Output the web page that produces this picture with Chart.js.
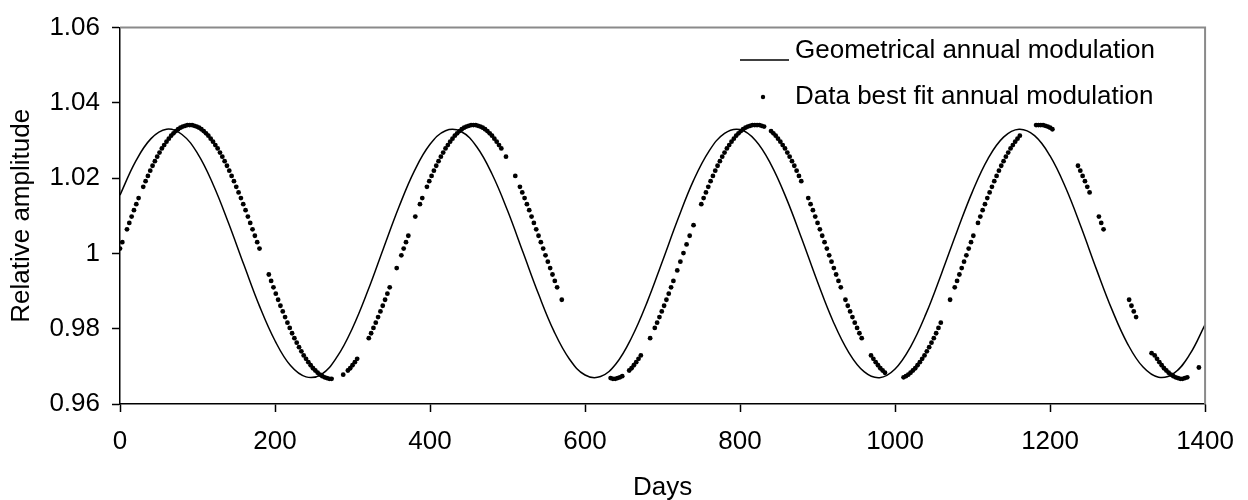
<!DOCTYPE html>
<html>
<head>
<meta charset="utf-8">
<script src="https://cdn.jsdelivr.net/npm/chart.js@4.4.0/dist/chart.umd.min.js"></script>
<style>
  html, body { margin: 0; padding: 0; background: #fff; }
  canvas { display: block; }
</style>
</head>
<body>
<canvas id="modChart" width="1248" height="500"></canvas>
<script>
// geometrical modulation, read every 20 days
const lineDays = [0,20,40,60,80,100,120,140,160,180,200,220,240,260,280,300,320,340,360,380,
  400,420,440,460,480,500,520,540,560,580,600,620,640,660,680,700,720,740,760,780,
  800,820,840,860,880,900,920,940,960,980,1000,1020,1040,1060,1080,1100,1120,1140,1160,1180,
  1200,1220,1240,1260,1280,1300,1320,1340,1360,1380,1400];
const lineValues = [1.0155,1.0244,1.0305,1.0330,1.0316,1.0266,1.0184,1.0081,0.9969,0.9860,
  0.9768,0.9702,0.9672,0.9679,0.9725,0.9802,0.9902,1.0014,1.0124,1.0220,
  1.0290,1.0326,1.0324,1.0284,1.0211,1.0114,1.0003,0.9892,0.9793,0.9719,
  0.9677,0.9673,0.9707,0.9776,0.9870,0.9980,1.0092,1.0194,1.0272,1.0319,
  1.0329,1.0300,1.0236,1.0145,1.0037,0.9924,0.9820,0.9738,0.9686,0.9670,
  0.9693,0.9752,0.9840,0.9947,1.0059,1.0165,1.0252,1.0309,1.0330,1.0313,
  1.0259,1.0175,1.0070,0.9957,0.9850,0.9760,0.9698,0.9671,0.9682,0.9731,0.9811];

// best fit points (days with data)
const fitDays = [0,3,9,12,15,18,21,24,30,33,
  36,39,42,45,48,51,54,57,60,63,66,69,72,75,78,81,84,87,90,93,96,99,102,105,108,111,114,117,120,
  123,126,129,132,135,138,141,144,147,150,153,156,159,162,165,168,171,174,177,180,
  192,195,198,201,204,207,210,213,216,219,
  222,225,228,231,234,237,240,243,246,249,252,
  255,258,261,264,267,270,273,
  288,294,297,300,303,306,
  321,324,327,330,333,336,339,342,345,348,
  357,363,366,369,372,
  381,387,390,
  396,399,402,405,408,411,414,417,420,423,426,429,432,435,
  438,441,444,447,450,453,456,459,462,465,468,471,474,477,480,483,486,489,
  492,498,510,
  516,519,522,525,528,531,534,537,540,543,546,549,552,555,558,561,564,570,
  633,636,639,642,645,648,
  657,660,663,666,669,672,
  684,690,693,696,699,702,705,708,711,714,
  719,723,727,731,735,740,
  750,753,756,759,762,765,768,771,774,777,780,783,786,789,792,795,798,801,804,807,810,813,816,819,822,825,828,831,
  840,843,846,849,852,855,858,861,864,867,870,873,876,879,
  888,891,894,897,900,903,906,909,912,915,918,921,924,927,930,
  936,939,942,945,948,951,954,957,
  969,972,975,978,981,984,987,
  1011,1014,1017,1020,1023,1026,1029,1032,1035,1038,1041,1044,1047,1050,1053,1056,1059,
  1071,1077,1080,1083,1086,1089,1092,1095,1098,1101,
  1107,1110,1113,1116,1119,1122,1125,1128,1131,1134,1137,1140,1143,1146,1149,1152,1155,1158,1161,
  1182,1185,1188,1191,1194,1197,1200,1203,
  1236,1239,1242,1245,1248,1251,
  1263,1266,1269,
  1302,1305,1308,1311,
  1331,
  1335,1338,1341,1344,1347,1350,1353,1356,1359,1362,1365,1368,1371,1374,1377,
  1392];
const fitValues = [1.0013,1.0030,1.0064,1.0081,1.0098,1.0115,1.0131,1.0147,1.0177,1.0192,
  1.0206,1.0220,1.0233,1.0245,1.0257,1.0268,1.0279,1.0288,1.0297,1.0305,1.0313,1.0319,1.0325,1.0330,1.0334,1.0337,1.0339,1.0341,1.0341,1.0341,1.0339,1.0337,1.0334,1.0330,1.0325,1.0319,1.0313,1.0305,1.0297,
  1.0288,1.0279,1.0268,1.0257,1.0245,1.0233,1.0220,1.0206,1.0192,1.0177,1.0162,1.0147,1.0131,1.0115,1.0098,1.0081,1.0064,1.0047,1.0030,1.0013,
  0.9944,0.9927,0.9910,0.9893,0.9877,0.9861,0.9846,0.9831,0.9816,0.9802,
  0.9788,0.9775,0.9763,0.9751,0.9740,0.9729,0.9720,0.9711,0.9703,0.9695,0.9689,
  0.9683,0.9678,0.9674,0.9671,0.9669,0.9667,0.9667,
  0.9678,0.9689,0.9695,0.9703,0.9711,0.9720,
  0.9775,0.9788,0.9802,0.9816,0.9831,0.9846,0.9861,0.9877,0.9893,0.9910,
  0.9961,0.9995,1.0013,1.0030,1.0047,
  1.0098,1.0131,1.0147,
  1.0177,1.0192,1.0206,1.0220,1.0233,1.0245,1.0257,1.0268,1.0279,1.0288,1.0297,1.0305,1.0313,1.0319,
  1.0325,1.0330,1.0334,1.0337,1.0339,1.0341,1.0341,1.0341,1.0339,1.0337,1.0334,1.0330,1.0325,1.0319,1.0313,1.0305,1.0297,1.0288,
  1.0279,1.0257,1.0206,
  1.0177,1.0162,1.0147,1.0131,1.0115,1.0098,1.0081,1.0064,1.0047,1.0030,1.0013,0.9995,0.9978,0.9961,0.9944,0.9927,0.9910,0.9877,
  0.9669,0.9667,0.9667,0.9669,0.9671,0.9674,
  0.9689,0.9695,0.9703,0.9711,0.9720,0.9729,
  0.9775,0.9802,0.9816,0.9831,0.9846,0.9861,0.9877,0.9893,0.9910,0.9927,
  0.9955,0.9978,1.0001,1.0024,1.0047,1.0075,
  1.0131,1.0147,1.0162,1.0177,1.0192,1.0206,1.0220,1.0233,1.0245,1.0257,1.0268,1.0279,1.0288,1.0297,1.0305,1.0313,1.0319,1.0325,1.0330,1.0334,1.0337,1.0339,1.0341,1.0341,1.0341,1.0341,1.0339,1.0337,
  1.0325,1.0319,1.0313,1.0305,1.0297,1.0288,1.0279,1.0268,1.0257,1.0245,1.0233,1.0220,1.0206,1.0192,
  1.0147,1.0131,1.0115,1.0098,1.0081,1.0064,1.0047,1.0030,1.0013,0.9995,0.9978,0.9961,0.9944,0.9927,0.9910,
  0.9877,0.9861,0.9846,0.9831,0.9816,0.9802,0.9788,0.9775,
  0.9729,0.9720,0.9711,0.9703,0.9695,0.9689,0.9683,
  0.9671,0.9674,0.9678,0.9683,0.9689,0.9695,0.9703,0.9711,0.9720,0.9729,0.9740,0.9751,0.9763,0.9775,0.9788,0.9802,0.9816,
  0.9877,0.9910,0.9927,0.9944,0.9961,0.9978,0.9995,1.0013,1.0030,1.0047,
  1.0081,1.0098,1.0115,1.0131,1.0147,1.0162,1.0177,1.0192,1.0206,1.0220,1.0233,1.0245,1.0257,1.0268,1.0279,1.0288,1.0297,1.0305,1.0313,
  1.0341,1.0341,1.0341,1.0341,1.0339,1.0337,1.0334,1.0330,
  1.0233,1.0220,1.0206,1.0192,1.0177,1.0162,
  1.0098,1.0081,1.0064,
  0.9877,0.9861,0.9846,0.9831,
  0.9735,
  0.9729,0.9720,0.9711,0.9703,0.9695,0.9689,0.9683,0.9678,0.9674,0.9671,0.9669,0.9667,0.9667,0.9669,0.9671,
  0.9697];

const xTicks = [0, 200, 400, 600, 800, 1000, 1200, 1400];
const yTicks = [0.96, 0.98, 1, 1.02, 1.04, 1.06];
const seriesNames = ['Geometrical annual modulation', 'Data best fit annual modulation'];

const FONT = "'Liberation Sans', Arial, sans-serif";
Chart.defaults.font.family = FONT;
Chart.defaults.font.size = 26;
Chart.defaults.color = '#000';

// gray frame on top/right + legend inside the plot
const frameAndLegend = {
  id: 'frameAndLegend',
  afterDraw(chart) {
    const { ctx, chartArea: a } = chart;
    ctx.save();
    ctx.strokeStyle = '#8a8a8a';
    ctx.lineWidth = 2;
    ctx.beginPath();
    ctx.moveTo(a.left, a.top);
    ctx.lineTo(a.right, a.top);
    ctx.lineTo(a.right, a.bottom);
    ctx.stroke();

    ctx.fillStyle = '#000';
    ctx.strokeStyle = '#000';
    ctx.lineWidth = 1.5;
    ctx.font = '26px ' + FONT;
    ctx.textBaseline = 'alphabetic';
    ctx.textAlign = 'left';
    // line entry
    ctx.beginPath();
    ctx.moveTo(740, 60);
    ctx.lineTo(789, 60);
    ctx.stroke();
    ctx.fillText(seriesNames[0], 795, 58);
    // point entry
    ctx.beginPath();
    ctx.arc(763, 97, 2.2, 0, Math.PI * 2);
    ctx.fill();
    ctx.fillText(seriesNames[1], 795, 104);
    ctx.restore();
  }
};

new Chart(document.getElementById('modChart'), {
  type: 'scatter',
  data: {
    datasets: [
      {
        label: seriesNames[0],
        data: lineDays.map((d, i) => ({ x: d, y: lineValues[i] })),
        showLine: true,
        pointRadius: 0,
        borderColor: '#000',
        borderWidth: 1.5,
        tension: 0.4
      },
      {
        label: seriesNames[1],
        data: fitDays.map((d, i) => ({ x: d, y: fitValues[i] })),
        pointRadius: 2.4,
        pointBackgroundColor: '#000',
        pointBorderWidth: 0
      }
    ]
  },
  options: {
    responsive: false,
    animation: false,
    devicePixelRatio: 1,
    layout: { padding: { top: 24, right: 40, left: 0, bottom: 0 } },
    plugins: { legend: { display: false }, tooltip: { enabled: false } },
    scales: {
      x: {
        type: 'linear',
        min: 0, max: 1400,
        afterBuildTicks: s => { s.ticks = xTicks.map(v => ({ value: v })); },
        afterFit: s => { s.height = 96; },
        ticks: { padding: 14, maxRotation: 0, color: '#000', callback: v => String(v) },
        grid: { drawOnChartArea: false, tickLength: 8, tickColor: '#000', tickWidth: 1.5 },
        border: { color: '#000', width: 1.5 },
        title: { display: true, text: 'Days', padding: { top: 0, bottom: -3 }, color: '#000' }
      },
      y: {
        min: 0.96, max: 1.06,
        afterBuildTicks: s => { s.ticks = yTicks.map(v => ({ value: v })); },
        afterFit: s => { s.width = 120; },
        ticks: { padding: 12, color: '#000', callback: v => String(+v.toFixed(2)) },
        grid: { drawOnChartArea: false, tickLength: 8, tickColor: '#000', tickWidth: 1.5 },
        border: { color: '#000', width: 1.5 },
        title: { display: true, text: 'Relative amplitude', padding: { top: 6, bottom: 0 }, color: '#000' }
      }
    }
  },
  plugins: [frameAndLegend]
});
</script>
</body>
</html>
